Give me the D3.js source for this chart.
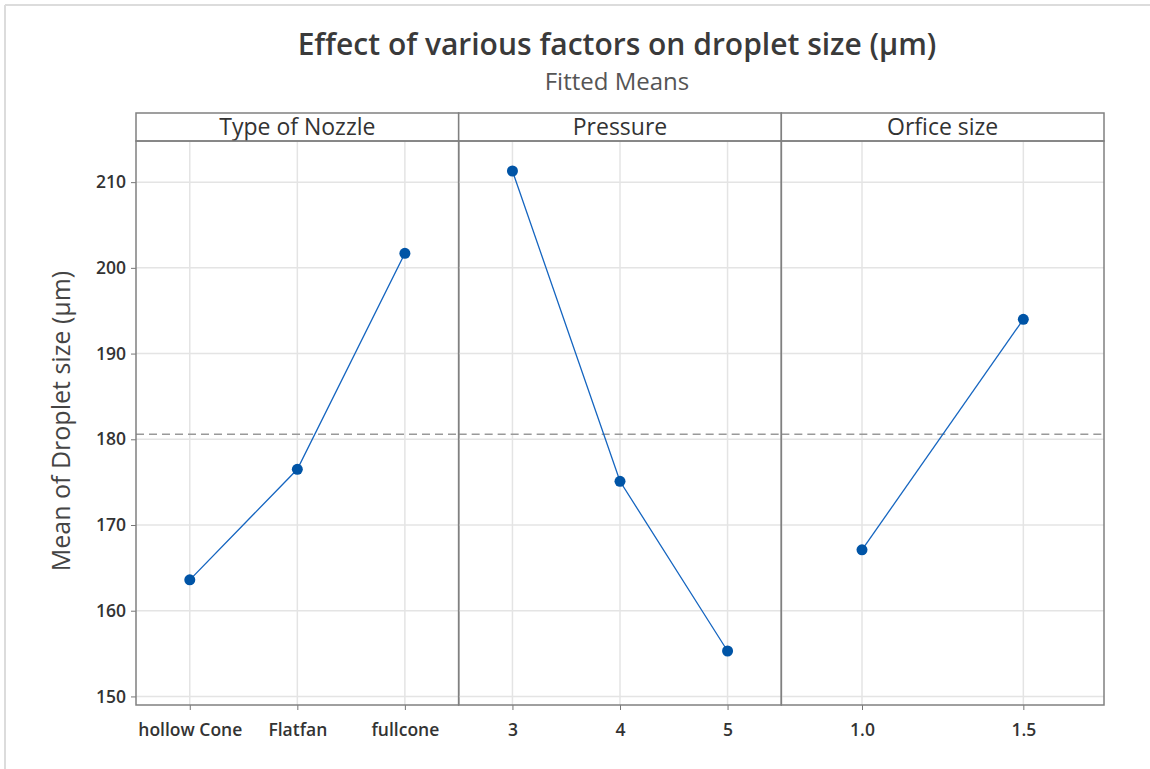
<!DOCTYPE html>
<html>
<head>
<meta charset="utf-8">
<script src="https://cdn.jsdelivr.net/npm/d3@7"></script>
<style>
  body { margin: 0; background: #fff; }
  text { font-family: "Open Sans", "Noto Sans", sans-serif; }
</style>
</head>
<body>
<svg id="chart" width="1150" height="769"></svg>
<script>
// factor panels
var panelTitles = ["Type of Nozzle", "Pressure", "Orfice size"];
var nozzleLevels = ["hollow Cone", "Flatfan", "fullcone"];
var nozzleMeans = [163.6, 176.5, 201.7];
var pressureLevels = ["3", "4", "5"];
var pressureMeans = [211.3, 175.1, 155.3];
var orificeLevels = ["1.0", "1.5"];
var orificeMeans = [167.1, 194.0];
var yTicks = [150, 160, 170, 180, 190, 200, 210];
var grandMean = 180.6;

var levels = [nozzleLevels, pressureLevels, orificeLevels];
var means = [nozzleMeans, pressureMeans, orificeMeans];

var svg = d3.select("#chart");
var plotLeft = 136, plotRight = 1104, stripTop = 113, stripH = 28, plotBottom = 705;
var plotTop = stripTop + stripH;
var blue = "#0054a6";

// light frame
svg.append("line").attr("x1", 5).attr("x2", 1150).attr("y1", 5).attr("y2", 5)
    .attr("stroke", "#dcdcdc").attr("stroke-width", 2);
svg.append("line").attr("x1", 5).attr("x2", 5).attr("y1", 5).attr("y2", 769)
    .attr("stroke", "#dcdcdc").attr("stroke-width", 2);

svg.append("text").attr("x", 617).attr("y", 55).attr("text-anchor", "middle")
    .style("font-size", "30px").style("font-weight", "600").attr("fill", "#3a3a3a")
    .text("Effect of various factors on droplet size (µm)");
svg.append("text").attr("x", 617).attr("y", 90).attr("text-anchor", "middle")
    .style("font-size", "24px").attr("fill", "#555")
    .text("Fitted Means");

var y = d3.scaleLinear().domain([149, 214.8]).range([plotBottom, plotTop]);

var panelW = (plotRight - plotLeft) / 3;

// y axis
var yAxis = svg.append("g").attr("transform", "translate(" + plotLeft + ",0)")
    .call(d3.axisLeft(y).tickValues(yTicks).tickSize(5).tickPadding(5));
yAxis.select(".domain").remove();
yAxis.selectAll("line").attr("stroke", "#777");
yAxis.selectAll("text").style("font-size", "17.5px").style("font-weight", "600").attr("fill", "#333")
    .style("font-family", "'Open Sans', sans-serif");

svg.append("text")
    .attr("transform", "translate(70," + ((plotTop + plotBottom) / 2 - 2) + ") rotate(-90)")
    .attr("text-anchor", "middle").style("font-size", "25px").attr("fill", "#444")
    .text("Mean of Droplet size (µm)");

panelTitles.forEach(function (title, p) {
    var x0 = plotLeft + p * panelW, x1 = x0 + panelW;
    var x = d3.scalePoint().domain(levels[p]).range([x0, x1]).padding(0.5);
    var g = svg.append("g");

    // horizontal grid
    g.selectAll(".hg").data(yTicks).enter().append("line")
        .attr("x1", x0).attr("x2", x1)
        .attr("y1", d => y(d)).attr("y2", d => y(d))
        .attr("stroke", "#e4e4e4").attr("stroke-width", 1.5);
    // vertical grid
    g.selectAll(".vg").data(levels[p]).enter().append("line")
        .attr("x1", d => x(d)).attr("x2", d => x(d))
        .attr("y1", plotTop).attr("y2", plotBottom)
        .attr("stroke", "#e4e4e4").attr("stroke-width", 1.5);

    // reference line
    g.append("line").attr("x1", x0).attr("x2", x1)
        .attr("y1", y(grandMean)).attr("y2", y(grandMean))
        .attr("stroke", "#999").attr("stroke-width", 1.5).attr("stroke-dasharray", "8,5");

    // x axis
    var xAxis = g.append("g").attr("transform", "translate(0," + plotBottom + ")")
        .call(d3.axisBottom(x).tickSize(5).tickPadding(14));
    xAxis.select(".domain").remove();
    xAxis.selectAll("line").attr("stroke", "#777");
    xAxis.selectAll("text").style("font-size", "17.5px").style("font-weight", "600").attr("fill", "#333")
        .style("font-family", "'Open Sans', sans-serif");

    // line and points
    var pts = levels[p].map((l, i) => [x(l), y(means[p][i])]);
    g.append("path").attr("d", d3.line()(pts))
        .attr("fill", "none").attr("stroke", "#1565c0").attr("stroke-width", 1.3);
    g.selectAll("circle").data(pts).enter().append("circle")
        .attr("cx", d => d[0]).attr("cy", d => d[1]).attr("r", 5.5)
        .attr("fill", blue);

    // strip
    g.append("rect").attr("x", x0).attr("y", stripTop).attr("width", panelW).attr("height", stripH)
        .attr("fill", "#fff").attr("stroke", "#808080").attr("stroke-width", 1.5);
    g.append("text").attr("x", (x0 + x1) / 2).attr("y", stripTop + 22).attr("text-anchor", "middle")
        .style("font-size", "23px").attr("fill", "#333").text(title);

    // panel border
    g.append("rect").attr("x", x0).attr("y", plotTop).attr("width", panelW).attr("height", plotBottom - plotTop)
        .attr("fill", "none").attr("stroke", "#808080").attr("stroke-width", 1.5);
});
</script>
</body>
</html>
